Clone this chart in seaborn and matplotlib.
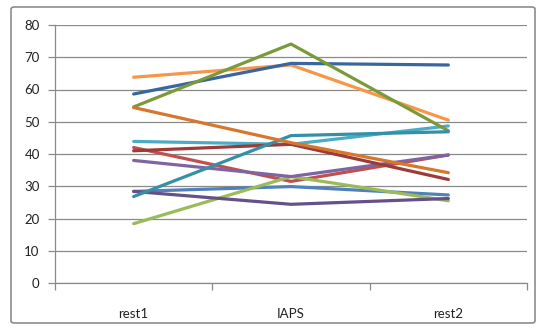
import pandas as pd
import matplotlib.pyplot as plt
import seaborn as sns
from matplotlib.patches import FancyBboxPatch
from matplotlib.ticker import FixedLocator

sns.set_theme(style="white")
plt.rcParams['font.family'] = ['Lato', 'DejaVu Sans']

# data
phases = ['rest1', 'IAPS', 'rest2']
s1 = [28.4, 29.9, 27.3]
s2 = [42.0, 31.5, 39.7]
s3 = [18.4, 33.0, 25.5]
s4 = [38.0, 33.0, 39.7]
s5 = [43.9, 43.0, 48.7]
s6 = [63.8, 67.6, 50.5]
s7 = [58.6, 68.1, 67.6]
s8 = [41.0, 43.0, 32.1]
s9 = [54.6, 74.1, 47.2]
s10 = [28.4, 24.4, 26.2]
s11 = [26.8, 45.7, 46.9]
s12 = [54.4, 43.5, 34.2]

series = [s1, s2, s3, s4, s5, s6, s7, s8, s9, s10, s11, s12]
colors = ['#4F81BD', '#C0504D', '#9BBB59', '#8064A2', '#4BACC6', '#F79646',
          '#3A66A0', '#9E3A38', '#7A9A3A', '#65508A', '#3390A8', '#D8762C']

rows = []
for i, vals in enumerate(series):
    for p, v in zip(phases, vals):
        rows.append({'series': f'S{i + 1}', 'phase': p, 'value': v})
df = pd.DataFrame(rows)

fig = plt.figure(figsize=(5.45, 3.3), dpi=100)
# chart frame like excel
frame = FancyBboxPatch((11 / 545, 7 / 330), 524 / 545, 316 / 330,
                       boxstyle="round,pad=0,rounding_size=0.006",
                       transform=fig.transFigure, fill=False,
                       edgecolor='#8C8C8C', linewidth=1.2)
fig.patches.append(frame)

ax = fig.add_axes([55 / 545, 47 / 330, 472 / 545, 258 / 330])
sns.lineplot(data=df, x='phase', y='value', hue='series', palette=colors,
             sort=False, estimator=None, linewidth=2.3, legend=False, ax=ax)

ax.set_ylim(0, 80)
ax.set_xlim(-0.5, 2.5)
ax.set_yticks(range(0, 81, 10))
ax.yaxis.grid(True, color='#8A8A8A', linewidth=0.9)
ax.set_axisbelow(True)
ax.set_xlabel('')
ax.set_ylabel('')

for s in ['top', 'right']:
    ax.spines[s].set_visible(False)
for s in ['left', 'bottom']:
    ax.spines[s].set_color('#8A8A8A')
    ax.spines[s].set_linewidth(0.9)

ax.tick_params(axis='y', which='major', left=True, length=5, width=0.9,
               color='#8A8A8A', labelsize=9.5, labelcolor='#222222', pad=6)
ax.tick_params(axis='x', which='major', bottom=False, labelsize=9.5,
               labelcolor='#222222', pad=12)
ax.xaxis.set_minor_locator(FixedLocator([-0.5, 0.5, 1.5, 2.5]))
ax.tick_params(axis='x', which='minor', bottom=True, length=5, width=0.9,
               color='#8A8A8A')

fig.savefig('out.png', dpi=100)
